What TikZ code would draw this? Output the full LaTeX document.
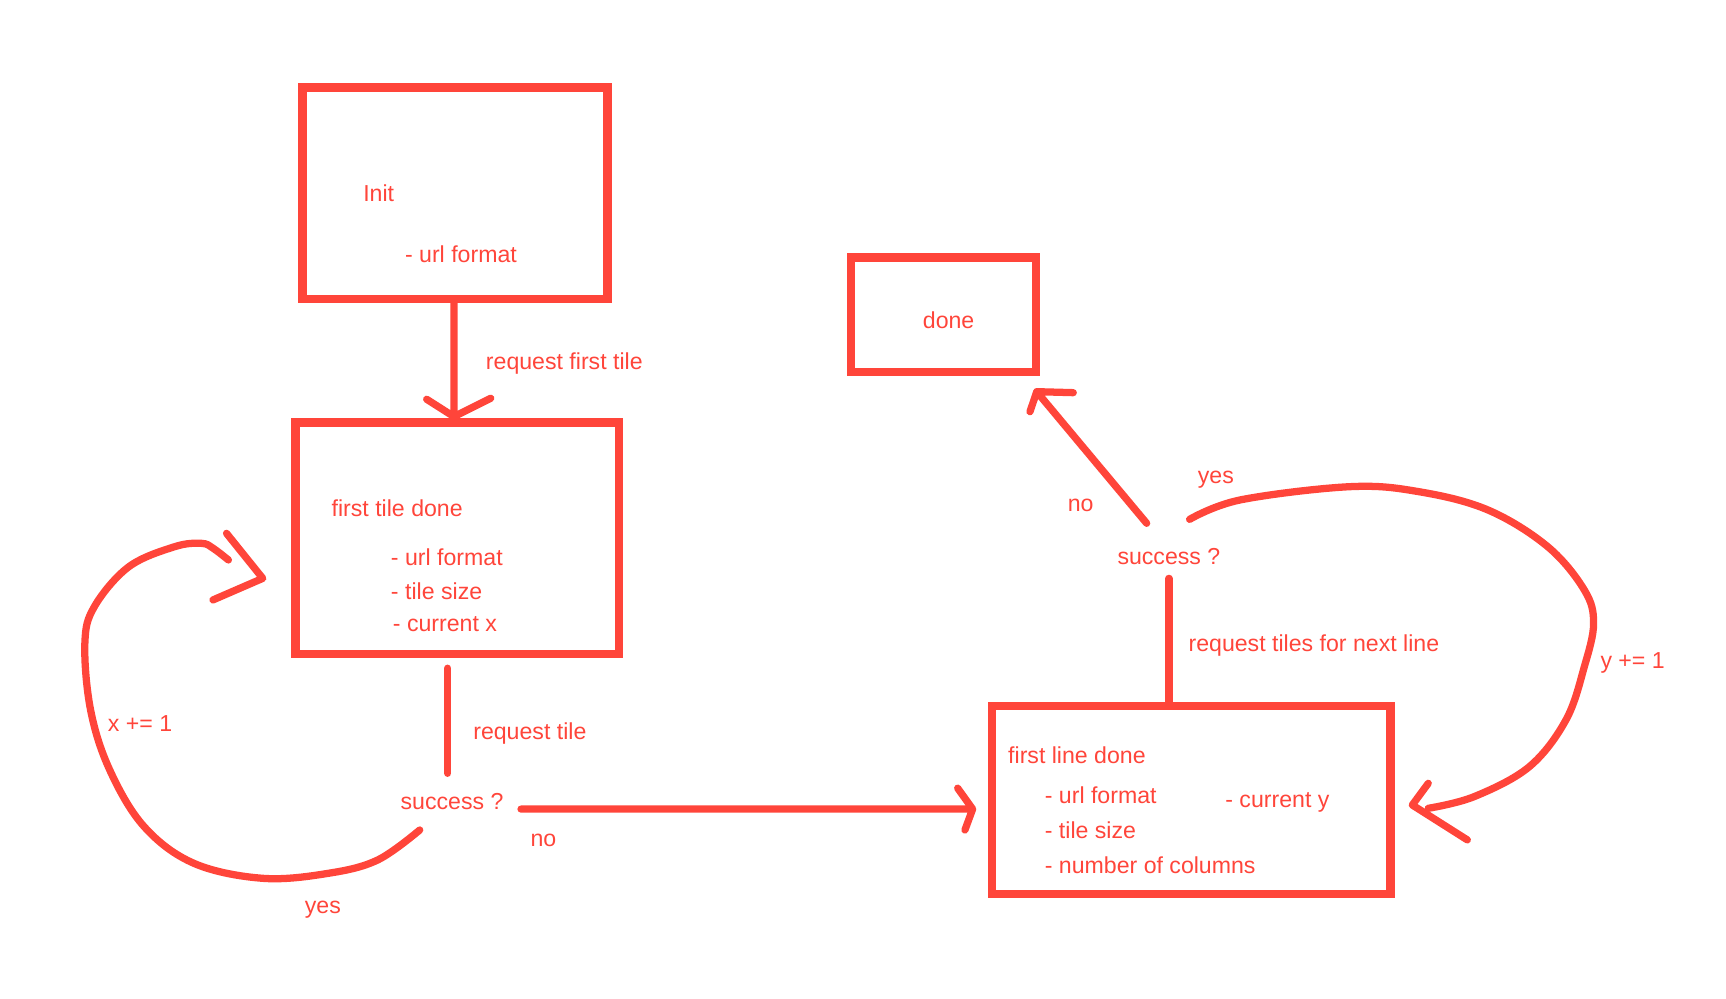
\documentclass[tikz,border=0pt]{standalone}
\usepackage{fontspec}
\setmainfont{Liberation Sans}
\usetikzlibrary{calc}
\definecolor{sketchred}{RGB}{255,69,58}
\begin{document}
\begin{tikzpicture}[x=0.5pt,y=-0.5pt,
  box/.style={draw=sketchred,line width=3.8pt,rectangle,inner sep=0pt,outer sep=0pt},
  conn/.style={draw=sketchred,line width=3.3pt,line cap=round,line join=round},
  lbl/.style={text=sketchred,font=\fontsize{10.5}{12}\selectfont,anchor=base west,inner sep=0pt,outer sep=0pt}]
\useasboundingbox (0,0) rectangle (1568,907);
% boxes
\node[box,minimum width=138.5pt,minimum height=96pt] (init) at (413.4,175.5) {};
\node[box,minimum width=147pt,minimum height=105.2pt] (ft) at (415.6,489) {};
\node[box,minimum width=84pt,minimum height=52pt] (done) at (857,286) {};
\node[box,minimum width=180.9pt,minimum height=85.5pt] (fl) at (1082.2,726.7) {};
% texts
\node[lbl] (tinit) at (330,182.6) {Init};
\node[lbl] (tinit1) at (368,238.3) {- url format};
\node[lbl] (treqfirst) at (441.5,336.1) {request first tile};
\node[lbl] (tft) at (301.3,469.4) {first tile done};
\node[lbl] (tft1) at (355.2,513.3) {- url format};
\node[lbl] (tft2) at (355.2,545) {- tile size};
\node[lbl] (tft3) at (357,573.8) {- current x};
\node[lbl] (treqtile) at (430,672) {request tile};
\node[lbl] (s1) at (364,735.8) {success ?};
\node[lbl] (tno1) at (482,769) {no};
\node[lbl] (tyes1) at (277,829.6) {yes};
\node[lbl] (tx) at (98,664.7) {x += 1};
\node[lbl,anchor=base] (tdone) at (861.8,298.3) {done};
\node[lbl] (tno2) at (970.1,464.8) {no};
\node[lbl] (tyes2) at (1088.2,439) {yes};
\node[lbl] (s2) at (1015.2,512.7) {success ?};
\node[lbl] (treqnext) at (1079.8,592) {request tiles for next line};
\node[lbl] (tfl) at (915.9,693.4) {first line done};
\node[lbl] (tfl1) at (949.2,729.8) {- url format};
\node[lbl] (tfl4) at (1113.2,733.7) {- current y};
\node[lbl] (tfl2) at (949.2,761.6) {- tile size};
\node[lbl] (tfl3) at (949.2,793.4) {- number of columns};
\node[lbl] (ty) at (1454,607.1) {y += 1};
% connector end points
\coordinate (tipA) at (412.4,378.5);
\coordinate (reqS) at (406.7,607);
\coordinate (reqE) at (406.7,702.5);
\coordinate (noS) at (473.3,735);
\coordinate (tipB) at (883.6,735);
\coordinate (yesS) at (381.3,754);
\coordinate (yesE) at (207.5,508.7);
\coordinate (tipC) at (238.7,525.4);
\coordinate (nxt) at (1061.9,525.4);
\coordinate (no2S) at (1041.7,475.4);
\coordinate (tipD) at (941.8,355.8);
\coordinate (yes2S) at (1080.7,471.8);
\coordinate (yes2E) at (1297.5,734.3);
\coordinate (tipE) at (1283,731.3);
% connectors
\draw[conn] (init.south -| tipA) -- (tipA) (387.6,362.7) -- (tipA) -- (445.8,361.8);
\draw[conn] (reqS) -- (reqE);
\draw[conn] (noS) -- (tipB) (870,716) -- (tipB) -- (876.6,754);
\draw[conn] plot[smooth,tension=0.6] coordinates {(yesS) (343,781.3) (298,793.4) (238.7,797.9) (176.2,784.3) (131,751) (99.7,699.5) (82.3,645) (77.1,584.4) (85.8,551) (117.1,514.8) (158.8,496.6) (183.1,493.6) (193.5,498) (yesE)};
\draw[conn] (205.8,484.5) -- (tipC) -- (193.5,545);
\draw[conn] (nxt) -- (nxt |- fl.north);
\draw[conn] (no2S) -- (tipD) (935.7,374) -- (tipD) -- (975,356.7);
\draw[conn] plot[smooth,tension=0.6] coordinates {(yes2S) (1126.5,454.2) (1226.6,442.1) (1289.2,446.7) (1351.8,463.3) (1406,496.6) (1439.3,536) (1447.7,566.2) (1439.3,605.6) (1422.6,654) (1389.3,696.5) (1339.2,723.7) (yes2E)};
\draw[conn] (1297.5,711.6) -- (tipE) -- (1333,763);
\end{tikzpicture}
\end{document}
